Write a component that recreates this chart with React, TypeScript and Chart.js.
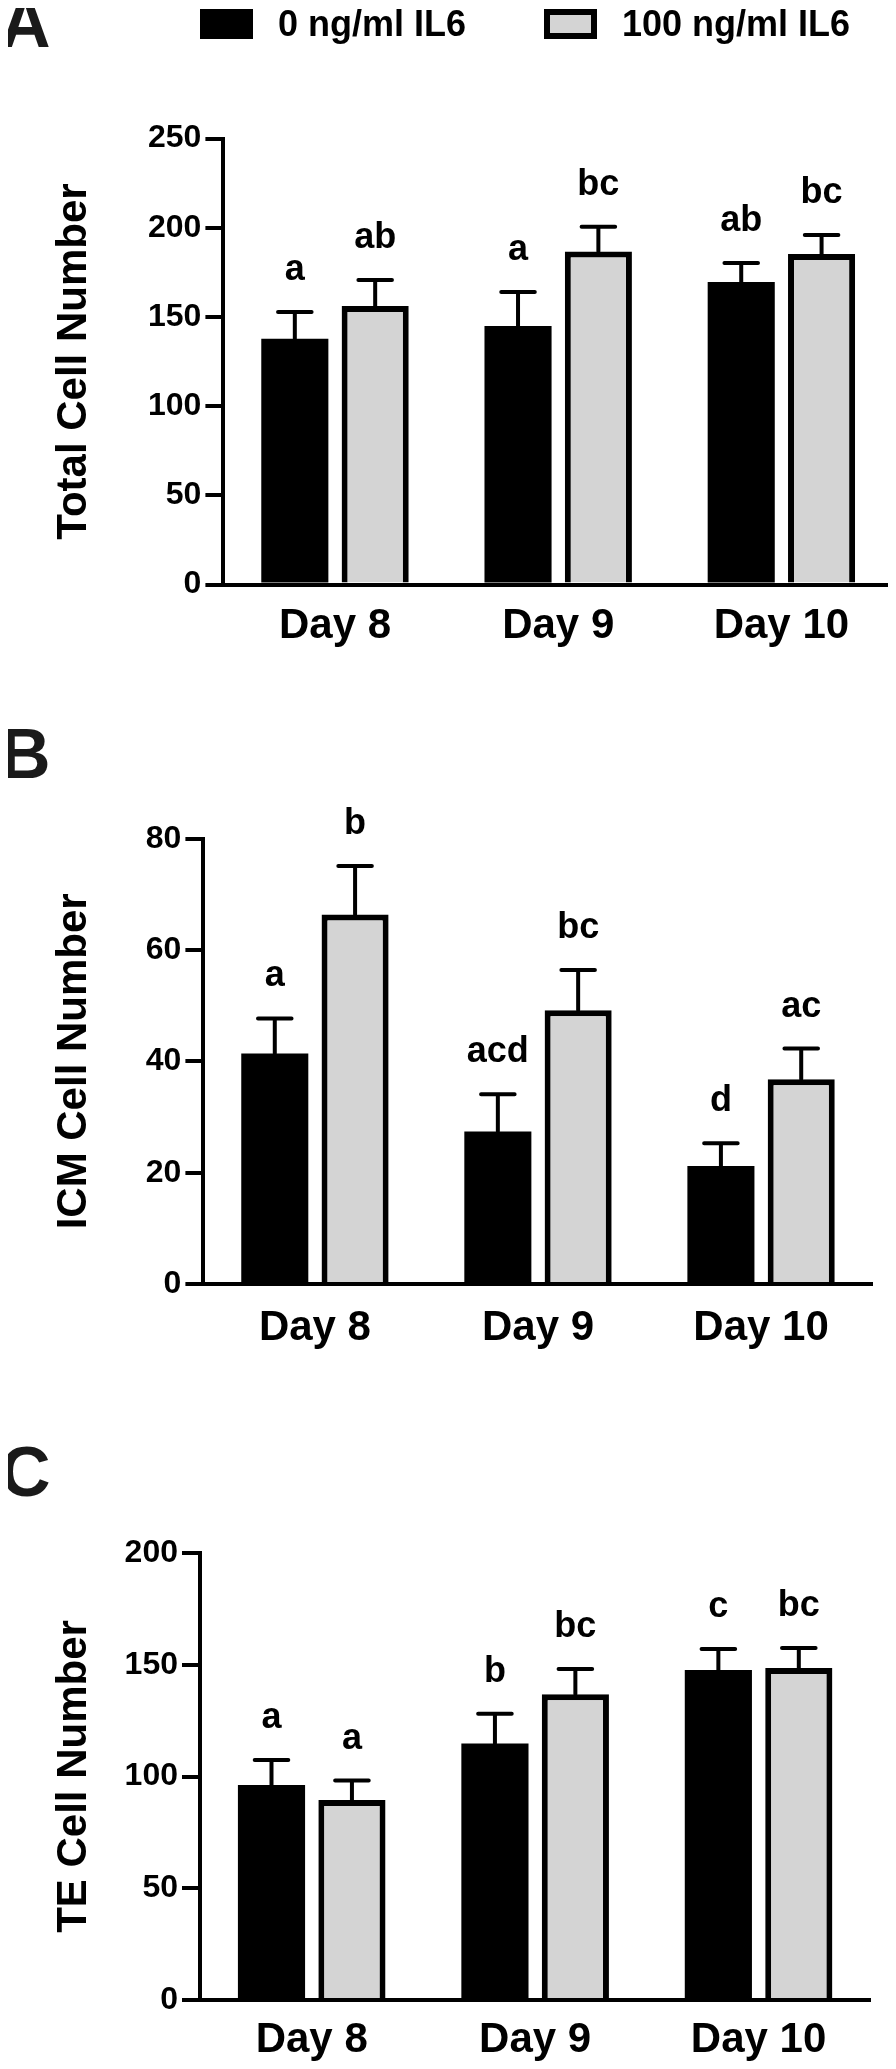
import React, { useEffect, useRef } from "react";
import { Chart, registerables } from "chart.js";

Chart.register(...registerables);

// ---------------- data ----------------
const days = ["Day 8", "Day 9", "Day 10"];
const seriesNames = ["0 ng/ml IL6", "100 ng/ml IL6"];
const seriesColors = ["#000000", "#d4d4d4"];

// Panel A – Total cell number
const totalTicks = [0, 50, 100, 150, 200, 250];
const totalCtrl = [137.7, 144.9, 169.6];
const totalCtrlErr = [15.1, 19.1, 10.6];
const totalIL6 = [156.1, 186.7, 185.2];
const totalIL6Err = [14.6, 13.8, 10.7];
const totalCtrlLetters = ["a", "a", "ab"];
const totalIL6Letters = ["ab", "bc", "bc"];

// Panel B – ICM cell number
const icmTicks = [0, 20, 40, 60, 80];
const icmCtrl = [41.4, 27.4, 21.2];
const icmCtrlErr = [6.3, 6.7, 4.1];
const icmIL6 = [66.4, 49.2, 36.8];
const icmIL6Err = [8.7, 7.2, 5.5];
const icmCtrlLetters = ["a", "acd", "d"];
const icmIL6Letters = ["b", "bc", "ac"];

// Panel C – TE cell number
const teTicks = [0, 50, 100, 150, 200];
const teCtrl = [96.2, 114.8, 147.6];
const teCtrlErr = [11.2, 13.3, 9.4];
const teIL6 = [89.5, 136.8, 148.6];
const teIL6Err = [8.7, 11.3, 8.9];
const teCtrlLetters = ["a", "b", "c"];
const teIL6Letters = ["a", "bc", "bc"];

// ---------------- styling ----------------
const FONT = '"Liberation Sans", Arial, Helvetica, sans-serif';
const PAGE_W = 896;

const errorBarPlugin = {
  id: "errorBarsLetters",
  afterDatasetsDraw(chart: any) {
    const ctx = chart.ctx;
    const yScale = chart.scales.y;
    chart.data.datasets.forEach((ds: any, di: number) => {
      const meta = chart.getDatasetMeta(di);
      meta.data.forEach((bar: any, i: number) => {
        const v = ds.data[i];
        const e = ds.errors[i];
        const x = bar.x;
        const w = bar.width;
        const yTop = yScale.getPixelForValue(v);
        const yErr = yScale.getPixelForValue(v + e);
        ctx.save();
        ctx.strokeStyle = "#000";
        ctx.lineWidth = 4;
        ctx.lineCap = "round";
        ctx.beginPath();
        ctx.moveTo(x, yTop);
        ctx.lineTo(x, yErr);
        const half = w * 0.25;
        ctx.moveTo(x - half, yErr);
        ctx.lineTo(x + half, yErr);
        ctx.stroke();
        ctx.font = `bold 36px ${FONT}`;
        ctx.fillStyle = "#000";
        ctx.textAlign = "center";
        ctx.textBaseline = "alphabetic";
        ctx.fillText(ds.letters[i], x, yErr - 32);
        ctx.restore();
      });
    });
  },
};

type Panel = {
  letter: string;
  yTitle: string;
  ticks: number[];
  ctrl: number[];
  ctrlErr: number[];
  il6: number[];
  il6Err: number[];
  ctrlLetters: string[];
  il6Letters: string[];
  canvasTop: number;
  canvasHeight: number;
  chartLeft: number;
  chartRight: number;
  chartTop: number;
  chartBottom: number;
  titlePadTop: number;
  xPad: number;
};

const panels: Panel[] = [
  {
    letter: "A",
    yTitle: "Total Cell Number",
    ticks: totalTicks,
    ctrl: totalCtrl,
    ctrlErr: totalCtrlErr,
    il6: totalIL6,
    il6Err: totalIL6Err,
    ctrlLetters: totalCtrlLetters,
    il6Letters: totalIL6Letters,
    canvasTop: 0,
    canvasHeight: 690,
    chartLeft: 223.4,
    chartRight: 893,
    chartTop: 138.5,
    chartBottom: 584.5,
    titlePadTop: 0,
    xPad: 16.3,
  },
  {
    letter: "B",
    yTitle: "ICM Cell Number",
    ticks: icmTicks,
    ctrl: icmCtrl,
    ctrlErr: icmCtrlErr,
    il6: icmIL6,
    il6Err: icmIL6Err,
    ctrlLetters: icmCtrlLetters,
    il6Letters: icmIL6Letters,
    canvasTop: 690,
    canvasHeight: 720,
    chartLeft: 203.4,
    chartRight: 872.6,
    chartTop: 148.7,
    chartBottom: 594,
    titlePadTop: 40.3,
    xPad: 18.8,
  },
  {
    letter: "C",
    yTitle: "TE Cell Number",
    ticks: teTicks,
    ctrl: teCtrl,
    ctrlErr: teCtrlErr,
    il6: teIL6,
    il6Err: teIL6Err,
    ctrlLetters: teCtrlLetters,
    il6Letters: teIL6Letters,
    canvasTop: 1410,
    canvasHeight: 659,
    chartLeft: 200,
    chartRight: 870.3,
    chartTop: 143,
    chartBottom: 590,
    titlePadTop: 38.8,
    xPad: 14.8,
  },
];

function PanelChart({ p }: { p: Panel }) {
  const ref = useRef<HTMLCanvasElement | null>(null);
  useEffect(() => {
    if (!ref.current) return;
    const titleLine = 56; // 70px * 0.8
    const chart = new Chart(ref.current, {
      type: "bar",
      data: {
        labels: days,
        datasets: [
          {
            label: seriesNames[0],
            data: p.ctrl,
            backgroundColor: seriesColors[0],
            borderColor: "#000",
            borderWidth: 0,
            categoryPercentage: 0.72,
            barPercentage: 0.835,
            errors: p.ctrlErr,
            letters: p.ctrlLetters,
          } as any,
          {
            label: seriesNames[1],
            data: p.il6,
            backgroundColor: seriesColors[1],
            borderColor: "#000",
            borderWidth: 6,
            categoryPercentage: 0.72,
            barPercentage: 0.835,
            errors: p.il6Err,
            letters: p.il6Letters,
          } as any,
        ],
      },
      options: {
        animation: false,
        responsive: false,
        maintainAspectRatio: false,
        devicePixelRatio: 1,
        events: [],
        layout: { padding: { left: 0, right: PAGE_W - p.chartRight, top: 0, bottom: 0 } },
        plugins: {
          legend: { display: false },
          tooltip: { enabled: false },
          title: {
            display: true,
            text: p.letter,
            align: "start",
            color: "#1a1a1a",
            font: { family: FONT, size: 70, weight: "bold", lineHeight: 0.8 },
            padding: { top: p.titlePadTop, bottom: p.chartTop - titleLine - p.titlePadTop },
          },
        },
        scales: {
          x: {
            type: "category",
            offset: true,
            grid: { display: false, drawTicks: false, tickLength: 0 },
            border: { display: true, color: "#000", width: 4 },
            ticks: {
              color: "#000",
              font: { family: FONT, size: 42, weight: "bold" },
              padding: p.xPad,
              maxRotation: 0,
              autoSkip: false,
            },
            afterFit: (s: any) => {
              s.height = p.canvasHeight - p.chartBottom;
            },
          },
          y: {
            min: p.ticks[0],
            max: p.ticks[p.ticks.length - 1],
            afterBuildTicks: (s: any) => {
              s.ticks = p.ticks.map((v) => ({ value: v }));
            },
            grid: {
              display: true,
              drawOnChartArea: false,
              drawTicks: true,
              tickLength: 18,
              tickWidth: 4,
              tickColor: "#000",
              lineWidth: 4,
              color: "#000",
            },
            border: { display: true, color: "#000", width: 4 },
            ticks: {
              color: "#000",
              font: { family: FONT, size: 32, weight: "bold" },
              padding: 4,
            },
            title: {
              display: true,
              text: p.yTitle,
              color: "#000",
              font: { family: FONT, size: 42, weight: "bold" },
              padding: { top: 48.8, bottom: 0 },
            },
            afterFit: (s: any) => {
              s.width = p.chartLeft;
            },
          },
        },
      },
      plugins: [errorBarPlugin],
    } as any);
    return () => chart.destroy();
  }, [p]);
  return (
    <canvas
      ref={ref}
      width={PAGE_W}
      height={p.canvasHeight}
      style={{ position: "absolute", left: 0, top: p.canvasTop, width: PAGE_W, height: p.canvasHeight }}
    />
  );
}

function Legend() {
  const boxLefts = [200, 544];
  const textLefts = [278, 622];
  return (
    <>
      {seriesNames.map((name, i) => (
        <React.Fragment key={name}>
          <div
            style={{
              position: "absolute",
              left: boxLefts[i],
              top: 9,
              width: 53,
              height: 30,
              boxSizing: "border-box",
              background: seriesColors[i],
              border: i === 0 ? "none" : "6px solid #000",
            }}
          />
          <div
            style={{
              position: "absolute",
              left: textLefts[i],
              top: 0,
              height: 47,
              lineHeight: "47px",
              fontFamily: FONT,
              fontWeight: "bold",
              fontSize: 36,
              color: "#000",
              whiteSpace: "nowrap",
            }}
          >
            {name}
          </div>
        </React.Fragment>
      ))}
    </>
  );
}

export default function App() {
  return (
    <div
      style={{
        position: "relative",
        width: PAGE_W,
        height: 2069,
        margin: "-8px -8px -8px -8px",
        overflow: "hidden",
        background: "#fff",
      }}
    >
      {panels.map((p) => (
        <PanelChart key={p.letter} p={p} />
      ))}
      <Legend />
    </div>
  );
}
